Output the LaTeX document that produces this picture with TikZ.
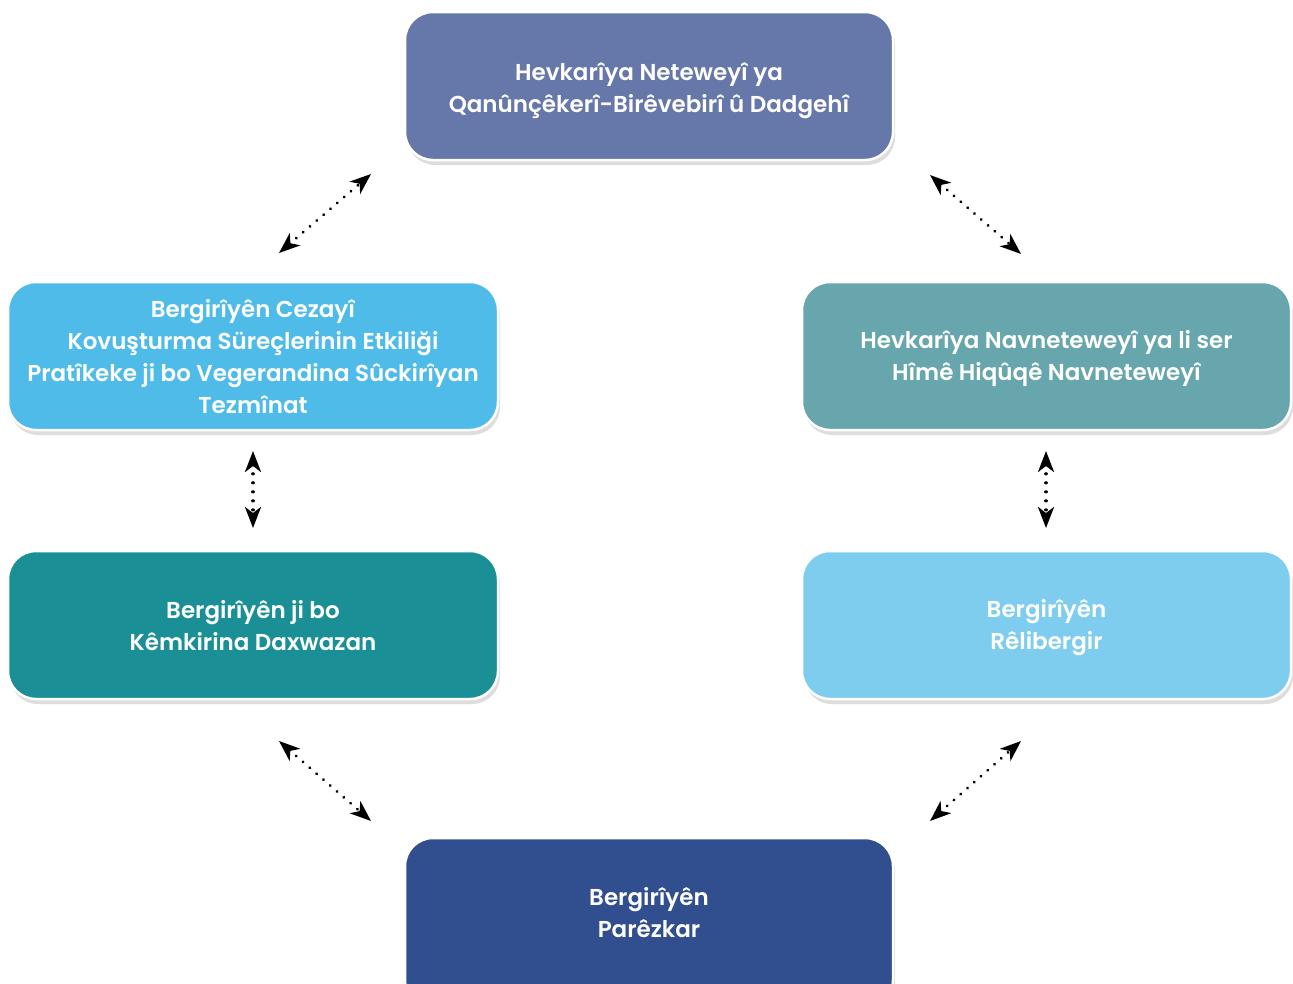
\documentclass[tikz,border=0pt]{standalone}
\usepackage{fontspec}
\setmainfont{Poppins}[UprightFont=* SemiBold,BoldFont=* Bold]
\usetikzlibrary{arrows.meta,shadows}
\definecolor{cTop}{HTML}{6677A9}
\definecolor{cL1}{HTML}{4FBBE8}
\definecolor{cR1}{HTML}{68A6AD}
\definecolor{cL2}{HTML}{1A9096}
\definecolor{cR2}{HTML}{7FCDEE}
\definecolor{cBot}{HTML}{314F8F}
\tikzset{
  card/.style={draw=white,line width=2.5pt,rounded corners=28pt,
    minimum width=490pt,minimum height=148pt,
    drop shadow={shadow xshift=2pt,shadow yshift=-5pt,opacity=0.22,fill=black!60}},
  cardtext/.style={text=white,align=center,font=\fontsize{23}{32}\selectfont},
  link/.style={line width=3.2pt,dash pattern=on 0.01pt off 9pt,line cap=round,
    {Stealth[length=21pt,width=16pt,inset=6pt,line cap=butt]}-{Stealth[length=21pt,width=16pt,inset=6pt,line cap=butt]},
    shorten <=0pt,shorten >=0pt}
}
\begin{document}
\begin{tikzpicture}[x=1pt,y=-1pt]
\useasboundingbox (0,0) rectangle (1293,983);
\fill[white] (0,0) rectangle (1293,983);
\begin{scope}
\clip (0,0) rectangle (1293,983);
\node[card,fill=cTop,minimum width=488pt] (top) at (649,86) {};
\node[card,fill=cL1] (l1) at (253,356) {};
\node[card,fill=cR1,minimum width=489pt] (r1) at (1046.5,356) {};
\node[card,fill=cL2] (l2) at (253,625) {};
\node[card,fill=cR2,minimum width=489pt] (r2) at (1046.5,625) {};
\node[card,fill=cBot,minimum width=488pt,minimum height=170pt] (bot) at (649,923) {};
\end{scope}
\node[cardtext] (topt) at (649,91) {Hevkarîya Neteweyî ya\\Qanûnçêkerî-Birêvebirî û Dadgehî};
\node[cardtext] (l1t) at (253,357) {Bergirîyên Cezayî\\Kovuşturma Süreçlerinin Etkiliği\\Pratîkeke ji bo Vegerandina Sûckirîyan\\Tezmînat};
\node[cardtext] (r1t) at (1046.5,359) {Hevkarîya Navneteweyî ya li ser\\Hîmê Hiqûqê Navneteweyî};
\node[cardtext] (l2t) at (253,626) {Bergirîyên ji bo\\Kêmkirina Daxwazan};
\node[cardtext] (r2t) at (1046.5,628) {Bergirîyên\\Rêlibergir};
\node[cardtext] (bott) at (649,913) {Bergirîyên\\Parêzkar};
\coordinate (a1) at (279,253); \coordinate (a2) at (371,174);
\coordinate (b1) at (930,175); \coordinate (b2) at (1021,254);
\coordinate (c1) at (253,451); \coordinate (c2) at (253,528);
\coordinate (d1) at (1046,451); \coordinate (d2) at (1046,528);
\coordinate (e1) at (279,741); \coordinate (e2) at (371,821);
\coordinate (f1) at (930,821); \coordinate (f2) at (1021,741);
\draw[link] (a1) -- (a2);
\draw[link] (b1) -- (b2);
\draw[link] (c1) -- (c2);
\draw[link] (d1) -- (d2);
\draw[link] (e1) -- (e2);
\draw[link] (f1) -- (f2);
\end{tikzpicture}
\end{document}
